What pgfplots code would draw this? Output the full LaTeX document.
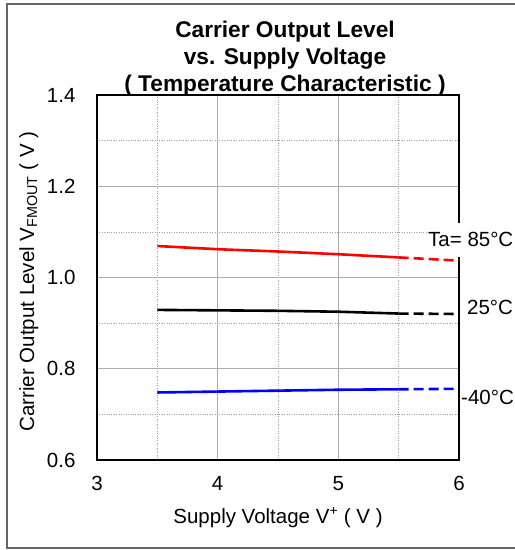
\documentclass[border=0pt]{standalone}
\usepackage{pgfplots}
\pgfplotsset{compat=1.18}
\usepackage{fontspec}
\setmainfont{Liberation Sans}
\newcommand\fs{\fontsize{20.5}{24}\selectfont}
\newcommand\ft{\fontsize{22.7}{26}\selectfont\bfseries}
\begin{document}
\begin{tikzpicture}[x=1pt,y=1pt]
\useasboundingbox (0,0) rectangle (515,550);
\draw[gray!80!black, line width=1.2pt] (530,2) -- (7,2) -- (7,546) -- (530,546);
\begin{axis}[
  at={(97pt,90pt)}, anchor=south west,
  scale only axis, width=362pt, height=365pt,
  xmin=3, xmax=6, ymin=0.6, ymax=1.4,
  xtick={3,4,5,6}, ytick={0.6,0.8,1.0,1.2,1.4},
  minor xtick={3.5,4.5,5.5}, minor ytick={0.7,0.9,1.1,1.3},
  grid=both,
  major grid style={gray!65, line width=0.7pt},
  minor grid style={gray!75, dotted, line width=0.6pt},
  major tick length=0pt, minor tick length=0pt,
  axis line style={line width=1.5pt, black},
  tick label style={font=\fs},
  /pgf/number format/assume math mode=true,
  yticklabel style={/pgf/number format/fixed, /pgf/number format/fixed zerofill, /pgf/number format/precision=1, xshift=-18pt},
  xticklabel style={yshift=-13pt},
  xlabel={Supply Voltage V\textsuperscript{\fontsize{14}{14}\selectfont +} ( V )},
  ylabel={Carrier Output Level V\textsubscript{FMOUT} ( V )},
  xlabel style={font=\fs, at={(axis description cs:0.5,-0.1726)}, anchor=base},
  ylabel style={font=\fs, at={(axis description cs:-0.174,0.489)}, anchor=base},
  clip=false,
]
\addplot[red, line width=2.6pt] coordinates {(3.5,1.069) (4,1.062) (4.5,1.057) (5,1.051) (5.5,1.044)};
\addplot[red, line width=2.6pt, dash pattern=on 10pt off 5pt] coordinates {(5.5,1.044) (6,1.037)};
\addplot[black, line width=2.6pt] coordinates {(3.5,0.929) (4,0.928) (4.5,0.927) (5,0.925) (5.5,0.921)};
\addplot[black, line width=2.6pt, dash pattern=on 10pt off 5pt] coordinates {(5.5,0.921) (6,0.920)};
\addplot[blue, line width=2.6pt] coordinates {(3.5,0.748) (4,0.750) (4.5,0.752) (5,0.754) (5.5,0.755)};
\addplot[blue, line width=2.6pt, dash pattern=on 10pt off 5pt] coordinates {(5.5,0.755) (6,0.756)};
\end{axis}
\node[font=\ft, anchor=base] at (285,512) {Carrier Output Level};
\node[font=\ft, anchor=base] at (285,485) {vs. Supply Voltage};
\node[font=\ft, anchor=base] at (285,458) {( Temperature Characteristic )};
\node[font=\fs, fill=white, inner xsep=1pt, inner ysep=10pt, anchor=base west] at (427,303) {Ta= 85°C};
\node[font=\fs, inner sep=0pt, anchor=base west] at (467,235) {25°C};
\node[font=\fs, inner sep=0pt, anchor=base west] at (461,145) {-40°C};
\end{tikzpicture}
\end{document}
